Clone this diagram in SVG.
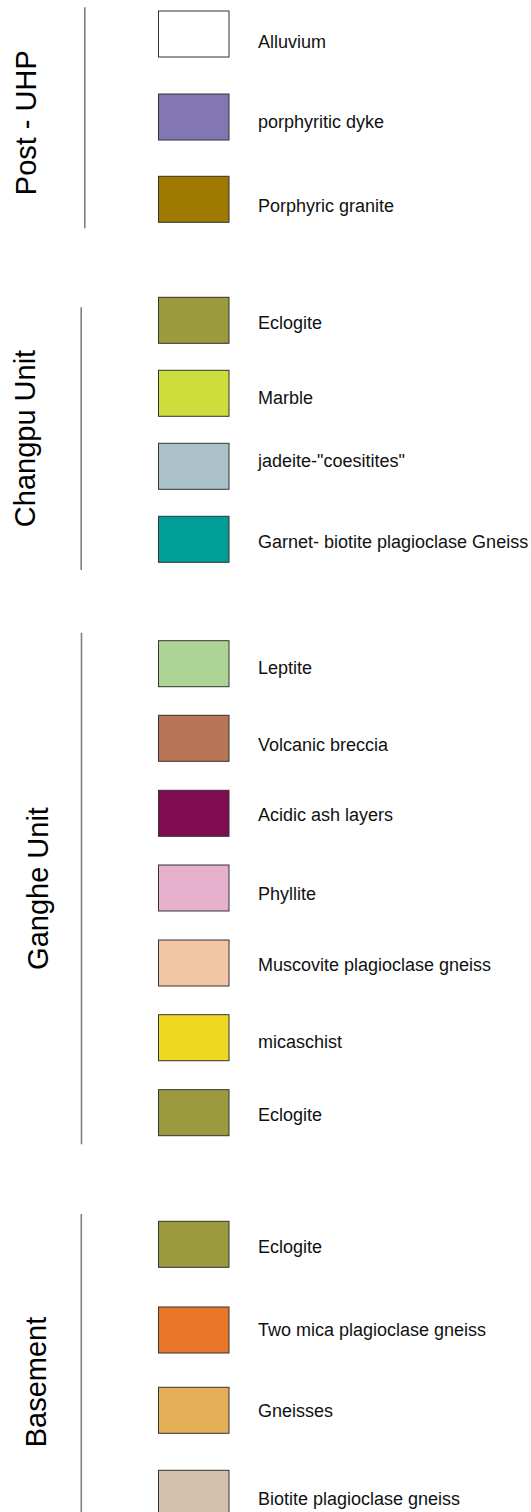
<svg xmlns="http://www.w3.org/2000/svg" width="531" height="1512" viewBox="0 0 531 1512">
<style>
.sw{stroke:#333;stroke-width:1}
.lb{font-family:"Liberation Sans",Arial,sans-serif;font-size:18px;fill:#111}
.grp{font-family:"Liberation Sans",Arial,sans-serif;font-size:29px;fill:#000;text-anchor:middle}
.ln{stroke:#7f7f7f;stroke-width:1.6;fill:none}
</style>
<rect width="531" height="1512" fill="#fff"/>
<g id="connectors">
<line class="ln" x1="84.8" y1="7.3" x2="84.8" y2="228.3"/>
<line class="ln" x1="81.2" y1="307.3" x2="81.2" y2="570"/>
<line class="ln" x1="81.5" y1="632.7" x2="81.5" y2="1144.3"/>
<line class="ln" x1="81.3" y1="1214" x2="81.3" y2="1512"/>
</g>
<g id="group-post-uhp"><text class="grp" transform="translate(36,122.7) rotate(-90)">Post - UHP</text></g>
<g id="group-changpu"><text class="grp" transform="translate(34.5,438.5) rotate(-90)">Changpu Unit</text></g>
<g id="group-ganghe"><text class="grp" transform="translate(48,888.5) rotate(-90)">Ganghe Unit</text></g>
<g id="group-basement"><text class="grp" transform="translate(45.5,1382) rotate(-90)">Basement</text></g>

<g id="alluvium"><rect class="sw" x="158.5" y="11" width="70.5" height="46" fill="#ffffff"/><text class="lb" x="258" y="48.3">Alluvium</text></g>
<g id="porphyritic-dyke"><rect class="sw" x="158.5" y="94" width="70.5" height="46" fill="#8377b3"/><text class="lb" x="258" y="127.7">porphyritic dyke</text></g>
<g id="porphyric-granite"><rect class="sw" x="158.5" y="176.3" width="70.5" height="46" fill="#a07a00"/><text class="lb" x="258" y="212.3">Porphyric granite</text></g>

<g id="changpu-eclogite"><rect class="sw" x="158.5" y="297.3" width="70.5" height="46" fill="#9c9a3f"/><text class="lb" x="258" y="329.3">Eclogite</text></g>
<g id="marble"><rect class="sw" x="158.5" y="370.3" width="70.5" height="46" fill="#cdde3c"/><text class="lb" x="258" y="404.3">Marble</text></g>
<g id="jadeite"><rect class="sw" x="158.5" y="443.3" width="70.5" height="46" fill="#abc1ca"/><text class="lb" x="258" y="466.7">jadeite-"coesitites"</text></g>
<g id="garnet-gneiss"><rect class="sw" x="158.5" y="516.3" width="70.5" height="46" fill="#009e96"/><text class="lb" x="258" y="548">Garnet- biotite plagioclase Gneiss</text></g>

<g id="leptite"><rect class="sw" x="158.5" y="640.7" width="70.5" height="46" fill="#acd494"/><text class="lb" x="258" y="674">Leptite</text></g>
<g id="volcanic-breccia"><rect class="sw" x="158.5" y="715.3" width="70.5" height="46" fill="#b97557"/><text class="lb" x="258" y="750.7">Volcanic breccia</text></g>
<g id="acidic-ash"><rect class="sw" x="158.5" y="790.3" width="70.5" height="46" fill="#810b51"/><text class="lb" x="258" y="821">Acidic ash layers</text></g>
<g id="phyllite"><rect class="sw" x="158.5" y="865" width="70.5" height="46" fill="#e5b1cc"/><text class="lb" x="258" y="900">Phyllite</text></g>
<g id="muscovite-gneiss"><rect class="sw" x="158.5" y="940" width="70.5" height="46" fill="#f2c5a5"/><text class="lb" x="258" y="971">Muscovite plagioclase gneiss</text></g>
<g id="micaschist"><rect class="sw" x="158.5" y="1014.7" width="70.5" height="46" fill="#eed822"/><text class="lb" x="258" y="1048.3">micaschist</text></g>
<g id="ganghe-eclogite"><rect class="sw" x="158.5" y="1089.7" width="70.5" height="46" fill="#9c9a3f"/><text class="lb" x="258" y="1120.7">Eclogite</text></g>

<g id="basement-eclogite"><rect class="sw" x="158.5" y="1221.3" width="70.5" height="46" fill="#9c9a3f"/><text class="lb" x="258" y="1252.7">Eclogite</text></g>
<g id="two-mica-gneiss"><rect class="sw" x="158.5" y="1307" width="70.5" height="46" fill="#e8772a"/><text class="lb" x="258" y="1335.7">Two mica plagioclase gneiss</text></g>
<g id="gneisses"><rect class="sw" x="158.5" y="1387.3" width="70.5" height="46" fill="#e4ae56"/><text class="lb" x="258" y="1416.7">Gneisses</text></g>
<g id="biotite-gneiss"><rect class="sw" x="158.5" y="1470.3" width="70.5" height="46" fill="#d5c0ad"/><text class="lb" x="258" y="1505">Biotite plagioclase gneiss</text></g>
</svg>
